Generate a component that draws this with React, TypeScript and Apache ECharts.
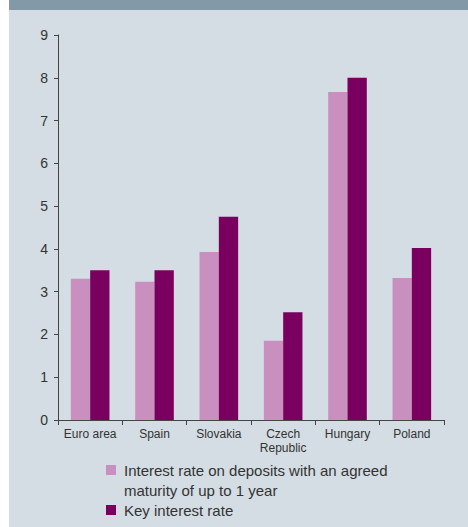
import React, { useEffect, useRef } from "react";
import * as echarts from "echarts";

const categories = ["Euro area", "Spain", "Slovakia", "Czech\nRepublic", "Hungary", "Poland"];
const depositRate = [3.3, 3.23, 3.93, 1.85, 7.67, 3.32];
const keyRate = [3.5, 3.5, 4.75, 2.52, 8.0, 4.02];
const seriesNames = ["Interest rate on deposits with an agreed\nmaturity of up to 1 year", "Key interest rate"];
const colors = ["#c98fbf", "#7a0060"];

export default function App() {
  const ref = useRef<HTMLDivElement>(null);
  useEffect(() => {
    const chart = echarts.init(ref.current!, null, { renderer: "svg" });
    const font = "'Liberation Sans', Arial, sans-serif";
    chart.setOption({
      animation: false,
      backgroundColor: "#ffffff",
      textStyle: { fontFamily: font },
      graphic: [
        { type: "rect", z: -10, shape: { x: 9, y: 0, width: 459, height: 10 }, style: { fill: "#8399a7" } },
        { type: "rect", z: -10, shape: { x: 9, y: 10, width: 459, height: 517 }, style: { fill: "#d3dde3" } },
        { type: "rect", shape: { x: 106, y: 465, width: 10, height: 10 }, style: { fill: colors[0] } },
        {
          type: "text",
          x: 124,
          y: 460,
          style: { text: seriesNames[0], fontSize: 15, lineHeight: 20, fill: "#333", fontFamily: font, verticalAlign: "top" },
        },
        { type: "rect", shape: { x: 106, y: 505, width: 10, height: 10 }, style: { fill: colors[1] } },
        {
          type: "text",
          x: 124,
          y: 500,
          style: { text: seriesNames[1], fontSize: 15, lineHeight: 20, fill: "#333", fontFamily: font, verticalAlign: "top" },
        },
      ],
      grid: { left: 58, right: 24, top: 35, bottom: 107 },
      xAxis: {
        type: "category",
        data: categories,
        axisLine: { lineStyle: { color: "#444" } },
        axisTick: { show: true, length: 5, lineStyle: { color: "#444" } },
        axisLabel: { color: "#333", fontSize: 12, fontFamily: font, margin: 7, lineHeight: 14, interval: 0 },
      },
      yAxis: {
        type: "value",
        min: 0,
        max: 9,
        interval: 1,
        splitLine: { show: false },
        axisLine: { show: true, lineStyle: { color: "#444" } },
        axisTick: { show: true, length: 4, lineStyle: { color: "#444" } },
        axisLabel: { color: "#333", fontSize: 14, fontFamily: font, margin: 10 },
      },
      series: [
        { name: seriesNames[0], type: "bar", data: depositRate, itemStyle: { color: colors[0] }, barGap: "0%", barCategoryGap: "40%" },
        { name: seriesNames[1], type: "bar", data: keyRate, itemStyle: { color: colors[1] }, barGap: "0%", barCategoryGap: "40%" },
      ],
    });
    return () => chart.dispose();
  }, []);
  return <div ref={ref} style={{ position: "absolute", left: 0, top: 0, width: 468, height: 527 }} />;
}
